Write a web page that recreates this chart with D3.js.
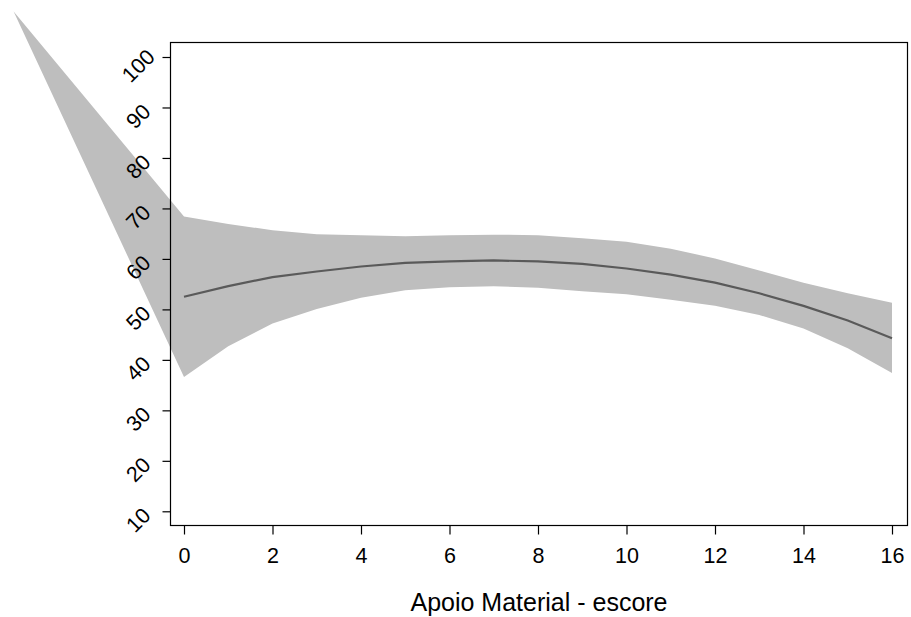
<!DOCTYPE html>
<html>
<head>
<meta charset="utf-8">
<script src="https://cdn.jsdelivr.net/npm/d3@7"></script>
<style>
  body { margin: 0; background: #fff; }
  text { font-family: "Liberation Sans", Arial, sans-serif; fill: #000; }
</style>
</head>
<body>
<script>
  // fitted curve and its band, one value per score 0..16
  const scores = d3.range(0, 17);
  const fit   = [52.5, 54.6, 56.4, 57.5, 58.5, 59.2, 59.5, 59.7, 59.5, 59.0, 58.1, 56.9, 55.3, 53.2, 50.7, 47.8, 44.3];
  const upper = [68.4, 66.9, 65.7, 64.9, 64.7, 64.5, 64.7, 64.8, 64.7, 64.1, 63.4, 62.0, 60.1, 57.7, 55.3, 53.2, 51.3];
  const lower = [36.6, 42.7, 47.2, 50.1, 52.3, 53.8, 54.4, 54.6, 54.3, 53.6, 53.0, 51.9, 50.7, 48.9, 46.2, 42.3, 37.4];
  // stray vertex of the band polygon that sits off to the upper left
  const strayPoint = {x: -3.85, y: 109};

  const xTicks = [0, 2, 4, 6, 8, 10, 12, 14, 16];
  const yTicks = [10, 20, 30, 40, 50, 60, 70, 80, 90, 100];

  const W = 911, H = 617;
  const box = {left: 170, right: 907, top: 42, bottom: 525};

  const x = d3.scaleLinear().domain([0, 16]).range([184, 892]);
  const y = d3.scaleLinear().domain([10, 100]).range([511.3, 57]);

  const svg = d3.select("body").append("svg")
    .attr("width", W)
    .attr("height", H);

  // band polygon: stray vertex, upper edge left to right, lower edge back
  const poly = [strayPoint]
    .concat(scores.map((s, i) => ({x: s, y: upper[i]})))
    .concat(scores.map((s, i) => ({x: s, y: lower[i]})).reverse());

  svg.append("path")
    .attr("d", d3.line().x(d => x(d.x)).y(d => y(d.y))(poly) + "Z")
    .attr("fill", "#bebebe")
    .attr("stroke", "none");

  // fitted line
  svg.append("path")
    .datum(scores.map((s, i) => ({x: s, y: fit[i]})))
    .attr("d", d3.line().x(d => x(d.x)).y(d => y(d.y)))
    .attr("fill", "none")
    .attr("stroke", "#5a5a5a")
    .attr("stroke-width", 2.2);

  // plot frame
  svg.append("rect")
    .attr("x", box.left + 0.5)
    .attr("y", box.top + 0.5)
    .attr("width", box.right - box.left)
    .attr("height", box.bottom - box.top)
    .attr("fill", "none")
    .attr("stroke", "#000")
    .attr("stroke-width", 1.2);

  // x axis
  const xAxis = d3.axisBottom(x)
    .tickValues(xTicks)
    .tickSize(9)
    .tickPadding(8);
  const gx = svg.append("g")
    .attr("transform", `translate(0, ${box.bottom + 0.5})`)
    .call(xAxis);
  gx.select(".domain").remove();
  gx.selectAll("line").attr("stroke", "#000").attr("stroke-width", 1.2);
  gx.selectAll("text")
    .attr("dy", null)
    .attr("y", 37.5)
    .style("font-size", "21.5px")
    .style("font-family", "Liberation Sans, Arial, sans-serif");

  // y axis with rotated labels
  const yAxis = d3.axisLeft(y)
    .tickValues(yTicks)
    .tickSize(8)
    .tickFormat("");
  const gy = svg.append("g")
    .attr("transform", `translate(${box.left + 0.5}, 0)`)
    .call(yAxis);
  gy.select(".domain").remove();
  gy.selectAll("line").attr("stroke", "#000").attr("stroke-width", 1.2);

  svg.append("g").selectAll("text")
    .data(yTicks)
    .join("text")
      .attr("transform", d => `translate(138.5, ${y(d) + 9}) rotate(-45)`)
      .attr("text-anchor", "middle")
      .attr("dominant-baseline", "central")
      .style("font-size", "21.5px")
      .text(d => d);

  // axis title
  svg.append("text")
    .attr("x", (x(0) + x(16)) / 2 + 1)
    .attr("y", 611)
    .attr("text-anchor", "middle")
    .style("font-size", "25px")
    .text("Apoio Material - escore");
</script>
</body>
</html>
